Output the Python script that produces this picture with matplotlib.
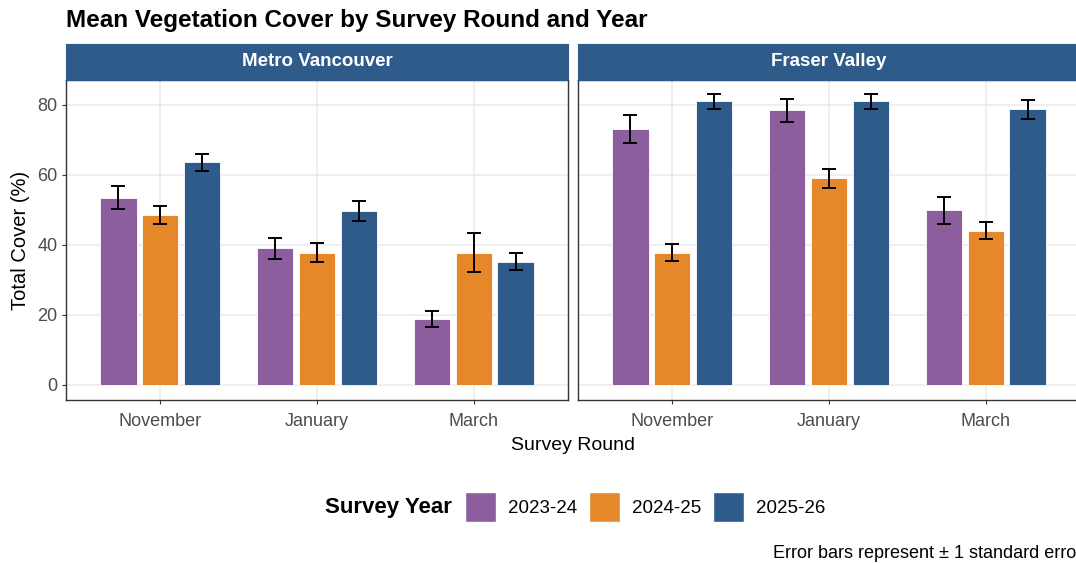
import numpy as np
import matplotlib.pyplot as plt
from matplotlib.patches import Patch

plt.rcParams['font.family'] = ['Liberation Sans', 'DejaVu Sans']

rounds = ["November", "January", "March"]
years = ["2023-24", "2024-25", "2025-26"]
regions = ["Metro Vancouver", "Fraser Valley"]
colors = ["#8C5E9E", "#E6872A", "#2E5B8A"]

# mean cover [year][round] and standard error, per region
mean_metro = [[53.5, 39.0, 18.8],
              [48.5, 37.8, 37.8],
              [63.6, 49.6, 35.2]]
se_metro = [[3.2, 3.1, 2.3],
            [2.6, 2.7, 5.6],
            [2.4, 2.8, 2.5]]
mean_fraser = [[73.1, 78.4, 49.9],
               [37.8, 59.0, 44.1],
               [81.0, 81.0, 78.7]]
se_fraser = [[4.0, 3.4, 3.8],
             [2.4, 2.8, 2.3],
             [2.1, 2.1, 2.6]]

W, H = 1076, 563
fig = plt.figure(figsize=(W / 100, H / 100), dpi=100)

def box(x0, y0, x1, y1):
    return [x0 / W, 1 - y1 / H, (x1 - x0) / W, (y1 - y0) / H]

panels = [(66, 568), (578, 1080)]
data = [(mean_metro, se_metro), (mean_fraser, se_fraser)]
x = np.arange(1, len(rounds) + 1)
dodge = 0.8 / 3
bw = 0.7 / 3

for i, ((x0, x1), (means, ses)) in enumerate(zip(panels, data)):
    ax = fig.add_axes(box(x0, 80, x1, 400))
    for j, yr in enumerate(years):
        pos = x + (j - 1) * dodge
        ax.bar(pos, means[j], width=bw, color=colors[j], edgecolor='white',
               linewidth=0.6, zorder=2)
        ax.errorbar(pos, means[j], yerr=ses[j], fmt='none', ecolor='black',
                    elinewidth=1.4, capsize=4.8, capthick=1.4, zorder=3)
    ax.set_xlim(0.4, 3.6)
    ax.set_ylim(-4.3, 87.1)
    ax.set_yticks([0, 20, 40, 60, 80])
    ax.set_xticks(x)
    ax.set_xticklabels(rounds)
    ax.grid(True, color='#EBEBEB', linewidth=1.1, zorder=0)
    ax.set_axisbelow(True)
    for s in ax.spines.values():
        s.set_color('#333333')
        s.set_linewidth(1.0)
    ax.tick_params(colors='#333333', labelcolor='#4D4D4D', labelsize=13,
                   length=3, width=0.8, pad=3)
    ax.tick_params(axis='x', pad=6)
    if i == 0:
        ax.set_ylabel("Total Cover (%)", fontsize=14.5, color='black', labelpad=5)
    else:
        ax.tick_params(axis='y', left=False, labelleft=False)

    # facet strip
    sx = fig.add_axes(box(x0, 44, x1, 80))
    sx.set_facecolor('#2E5B8A')
    sx.set_xticks([])
    sx.set_yticks([])
    for s in sx.spines.values():
        s.set_color('#2E5B8A')
    sx.text(0.5, 0.5, regions[i], transform=sx.transAxes, ha='center',
            va='center', color='white', fontsize=13.5, fontweight='bold')

fig.text(66 / W, 1 - 20 / H, "Mean Vegetation Cover by Survey Round and Year",
         fontsize=17.5, fontweight='bold', ha='left', va='center')
fig.text(573 / W, 1 - 445 / H, "Survey Round", fontsize=14, ha='center', va='center')

handles = [Patch(facecolor=c, edgecolor='white') for c in colors]
fig.text(325 / W, 1 - 508 / H, "Survey Year", fontsize=16, fontweight='bold',
         ha='left', va='center')
fig.legend(handles, years, ncol=3, loc='center left',
           bbox_to_anchor=(465 / W, 1 - 507 / H), frameon=False, fontsize=13.5,
           handlelength=1.65, handleheight=2.16, handletextpad=0.64,
           columnspacing=0.64, borderpad=0, borderaxespad=0)

fig.text(1082 / W, 1 - 553 / H, "Error bars represent \u00b1 1 standard error",
         fontsize=13, ha='right', va='center')

fig.savefig("out.png", dpi=100)
